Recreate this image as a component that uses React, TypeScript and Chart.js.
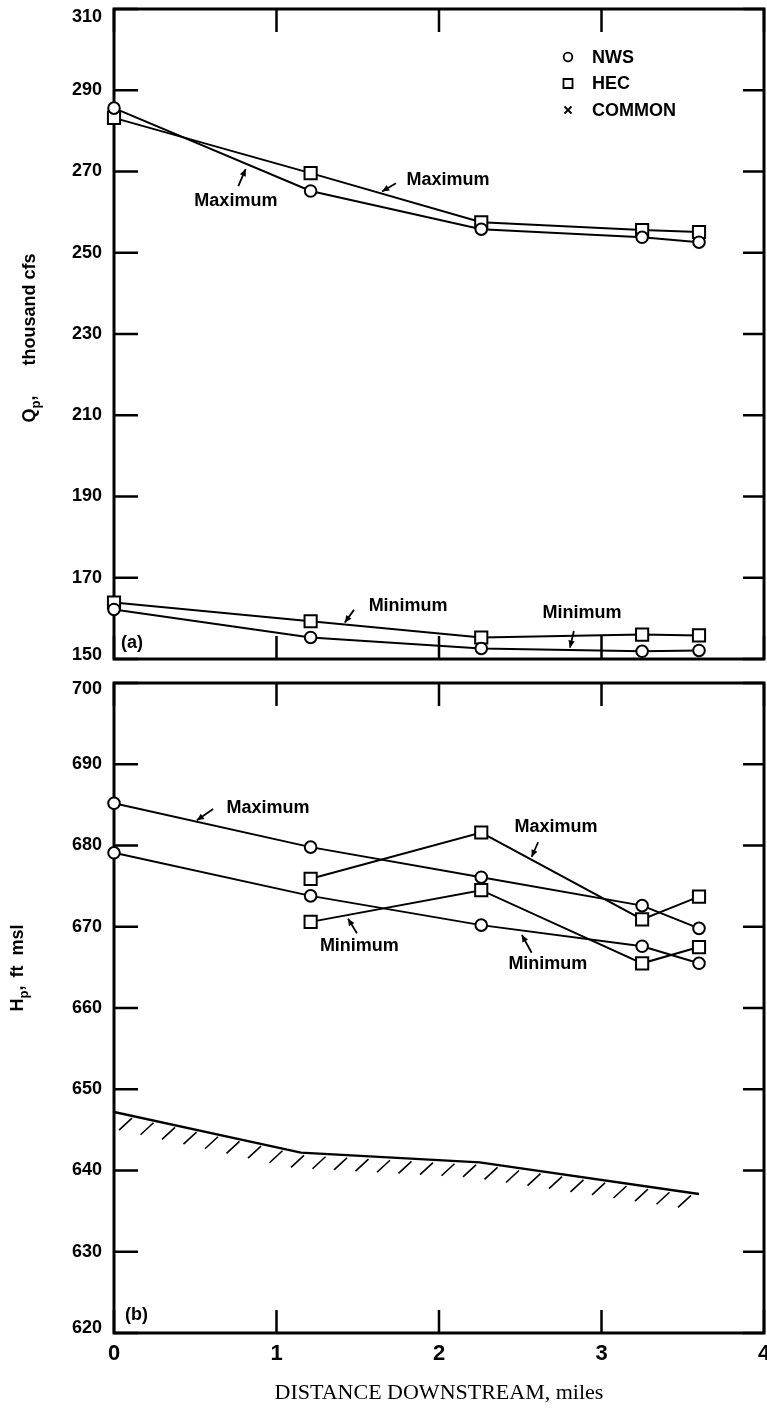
import React, { useEffect, useRef } from "react";
import { Chart, registerables } from "chart.js";

Chart.register(...registerables);

const SANS = "'Liberation Sans', Arial, Helvetica, sans-serif";
const SERIF = "'Liberation Serif', 'Times New Roman', serif";

// Stations along the reach, miles downstream
const stationMiles = [0, 1.21, 2.26, 3.25, 3.6];

// (a) Peak discharge, thousand cfs
const qNwsMax = [285.6, 265.2, 255.8, 253.8, 252.6];
const qHecMax = [283.2, 269.6, 257.5, 255.6, 255.1];
const qNwsMin = [162.2, 155.3, 152.6, 151.9, 152.1];
const qHecMin = [163.9, 159.3, 155.3, 156.0, 155.8];

// (b) Peak stage, ft msl (HEC starts at the first downstream station)
const hNwsMax = [685.2, 679.8, 676.1, 672.6, 669.8];
const hNwsMin = [679.1, 673.8, 670.2, 667.6, 665.5];
const hHecMax = [null, 675.9, 681.6, 670.9, 673.7];
const hHecMin = [null, 670.6, 674.5, 665.5, 667.5];

// Channel bed profile
const bedMiles = [0, 1.15, 2.25, 3.6];
const bedElev = [647.2, 642.2, 641.0, 637.1];

// Axis ticks
const xTickValues = [0, 1, 2, 3, 4];
const qTickValues = [150, 170, 190, 210, 230, 250, 270, 290, 310];
const hTickValues = [620, 630, 640, 650, 660, 670, 680, 690, 700];

// Legend
const legendLabels = ["NWS", "HEC", "COMMON"];
const legendMarkers = ["circle", "square", "cross"];

// Callout labels with leader arrows, in data units [miles, value]
type Note = { text: string; at: number[]; tail: number[]; head: number[] };
const qNotes: Note[] = [
  { text: "Maximum", at: [0.75, 262.7], tail: [0.765, 266.4], head: [0.81, 270.6] },
  { text: "Maximum", at: [2.055, 267.8], tail: [1.735, 267.1], head: [1.65, 265.1] },
  { text: "Minimum", at: [1.81, 163.1], tail: [1.477, 162.1], head: [1.42, 159.0] },
  { text: "Minimum", at: [2.88, 161.3], tail: [2.83, 156.9], head: [2.806, 152.8] },
];
const hNotes: Note[] = [
  { text: "Maximum", at: [0.948, 684.6], tail: [0.61, 684.5], head: [0.51, 683.1] },
  { text: "Maximum", at: [2.72, 682.3], tail: [2.61, 680.4], head: [2.57, 678.6] },
  { text: "Minimum", at: [1.51, 667.6], tail: [1.495, 669.2], head: [1.44, 671.0] },
  { text: "Minimum", at: [2.67, 665.4], tail: [2.57, 666.8], head: [2.51, 669.0] },
];

const toPoints = (xs: number[], ys: (number | null)[]) =>
  xs
    .map((x, i) => ({ x, y: ys[i] }))
    .filter((p) => p.y !== null && p.y !== undefined);

const seriesDataset = (label: string, ys: (number | null)[], marker: string) => ({
  label,
  data: toPoints(stationMiles, ys),
  borderColor: "#000",
  borderWidth: 2,
  backgroundColor: "#fff",
  pointStyle: marker === "circle" ? "circle" : "rect",
  pointRadius: marker === "circle" ? 5.8 : 8.6,
  pointBorderWidth: 2,
  pointBackgroundColor: "#fff",
  pointBorderColor: "#000",
  fill: false,
  tension: 0,
  clip: false,
});

type PanelDecor = {
  yTicks: number[];
  notes: Note[];
  tag: { text: string; at: number[] };
  title: { parts: { text: string; size: number; dy: number; gap: number }[]; dx: number; dy: number };
  legend: boolean;
  bedIndex: number;
};

function drawArrow(ctx: CanvasRenderingContext2D, x1: number, y1: number, x2: number, y2: number) {
  ctx.beginPath();
  ctx.moveTo(x1, y1);
  ctx.lineTo(x2, y2);
  ctx.lineWidth = 1.8;
  ctx.stroke();
  const ang = Math.atan2(y2 - y1, x2 - x1);
  const len = 7;
  const half = 3.2;
  ctx.beginPath();
  ctx.moveTo(x2, y2);
  ctx.lineTo(x2 - len * Math.cos(ang) + half * Math.sin(ang), y2 - len * Math.sin(ang) - half * Math.cos(ang));
  ctx.lineTo(x2 - len * Math.cos(ang) - half * Math.sin(ang), y2 - len * Math.sin(ang) + half * Math.cos(ang));
  ctx.closePath();
  ctx.fill();
}

function makeDecorPlugin(cfg: PanelDecor) {
  return {
    id: "panelDecor",
    beforeDatasetsDraw(chart: any) {
      const { ctx, chartArea } = chart;
      const { left, right, top, bottom } = chartArea;
      const xs = chart.scales.x;
      const ys = chart.scales.y;
      ctx.save();
      ctx.strokeStyle = "#000";
      ctx.fillStyle = "#000";
      ctx.lineCap = "butt";

      // frame
      ctx.lineWidth = 3;
      ctx.strokeRect(left, top, right - left, bottom - top);

      // inward tick marks
      ctx.lineWidth = 2.5;
      ctx.beginPath();
      cfg.yTicks.forEach((v) => {
        const py = ys.getPixelForValue(v);
        ctx.moveTo(left, py);
        ctx.lineTo(left + 24, py);
        ctx.moveTo(right, py);
        ctx.lineTo(right - 21, py);
      });
      xTickValues.forEach((v) => {
        const px = xs.getPixelForValue(v);
        ctx.moveTo(px, top);
        ctx.lineTo(px, top + 23);
        ctx.moveTo(px, bottom);
        ctx.lineTo(px, bottom - 23);
      });
      ctx.stroke();

      // hatching under the channel bed
      if (cfg.bedIndex >= 0) {
        const pts = chart.getDatasetMeta(cfg.bedIndex).data.map((e: any) => ({ x: e.x, y: e.y }));
        ctx.lineWidth = 1.6;
        ctx.beginPath();
        for (let px = pts[0].x + 14; px <= pts[pts.length - 1].x + 2; px += 21.5) {
          let k = 0;
          while (k < pts.length - 2 && px > pts[k + 1].x) k++;
          const a = pts[k];
          const b = pts[k + 1];
          const t = Math.min(1, Math.max(0, (px - a.x) / (b.x - a.x)));
          const py = a.y + t * (b.y - a.y);
          ctx.moveTo(px + 4, py + 3);
          ctx.lineTo(px - 9, py + 15);
        }
        ctx.stroke();
      }
      ctx.restore();
    },
    afterDatasetsDraw(chart: any) {
      const { ctx, chartArea } = chart;
      const { left, right, top, bottom } = chartArea;
      const xs = chart.scales.x;
      const ys = chart.scales.y;
      const X = (v: number) => xs.getPixelForValue(v);
      const Y = (v: number) => ys.getPixelForValue(v);
      ctx.save();
      ctx.fillStyle = "#000";
      ctx.strokeStyle = "#000";

      // callouts
      ctx.font = `bold 18px ${SANS}`;
      ctx.textAlign = "center";
      ctx.textBaseline = "middle";
      cfg.notes.forEach((n) => {
        ctx.fillText(n.text, X(n.at[0]), Y(n.at[1]));
        drawArrow(ctx, X(n.tail[0]), Y(n.tail[1]), X(n.head[0]), Y(n.head[1]));
      });

      // panel tag
      ctx.textAlign = "left";
      ctx.fillText(cfg.tag.text, X(cfg.tag.at[0]), Y(cfg.tag.at[1]));

      // legend
      if (cfg.legend) {
        const mx = right - 196;
        const tx = right - 172;
        legendLabels.forEach((lab, i) => {
          const my = top + 48 + i * 26.5;
          ctx.lineWidth = 1.8;
          ctx.beginPath();
          if (legendMarkers[i] === "circle") {
            ctx.arc(mx, my, 4.3, 0, Math.PI * 2);
          } else if (legendMarkers[i] === "square") {
            ctx.rect(mx - 4.5, my - 4.5, 9, 9);
          } else {
            ctx.moveTo(mx - 3.5, my - 3.5);
            ctx.lineTo(mx + 3.5, my + 3.5);
            ctx.moveTo(mx + 3.5, my - 3.5);
            ctx.lineTo(mx - 3.5, my + 3.5);
          }
          ctx.stroke();
          ctx.font = `bold 18px ${SANS}`;
          ctx.textAlign = "left";
          ctx.textBaseline = "middle";
          ctx.fillText(lab, tx, my + 1);
        });
      }

      // rotated axis title with subscript
      const parts = cfg.title.parts;
      let total = 0;
      parts.forEach((p) => {
        ctx.font = `bold ${p.size}px ${SANS}`;
        total += ctx.measureText(p.text).width + p.gap;
      });
      ctx.translate(left + cfg.title.dx, (top + bottom) / 2 + cfg.title.dy);
      ctx.rotate(-Math.PI / 2);
      ctx.textAlign = "left";
      ctx.textBaseline = "alphabetic";
      let cursor = -total / 2;
      parts.forEach((p) => {
        ctx.font = `bold ${p.size}px ${SANS}`;
        ctx.fillText(p.text, cursor, p.dy);
        cursor += ctx.measureText(p.text).width + p.gap;
      });
      ctx.restore();
    },
  };
}

function yScale(min: number, max: number, tickValues: number[], nudgeTop: number, nudgeBottom: number) {
  return {
    type: "linear",
    min,
    max,
    afterBuildTicks: (s: any) => {
      s.ticks = tickValues.map((v) => ({ value: v }));
    },
    afterFit: (s: any) => {
      s.width = 114;
      s.paddingTop = 0;
      s.paddingBottom = 0;
    },
    grid: { display: false, drawTicks: false },
    border: { display: false },
    ticks: {
      color: "#000",
      padding: 12,
      callback: (v: number) => (v === max ? ["", String(v)] : v === min ? [String(v), ""] : String(v)),
      font: (c: any) => {
        const v = c.tick ? c.tick.value : null;
        const lh = v === max ? `${2 * nudgeTop}px` : v === min ? `${2 * nudgeBottom}px` : 1.2;
        return { family: SANS, size: 18, weight: "bold", lineHeight: lh };
      },
    },
  };
}

function xScale(show: boolean) {
  return {
    type: "linear",
    min: 0,
    max: 4,
    display: show,
    afterBuildTicks: (s: any) => {
      s.ticks = xTickValues.map((v) => ({ value: v }));
    },
    afterFit: (s: any) => {
      s.height = show ? 76 : 0;
      s.paddingLeft = 0;
      s.paddingRight = 0;
    },
    grid: { display: false, drawTicks: false },
    border: { display: false },
    ticks: {
      color: "#000",
      padding: 8,
      maxRotation: 0,
      font: { family: SANS, size: 22, weight: "bold" },
    },
    title: {
      display: show,
      text: "DISTANCE DOWNSTREAM, miles",
      color: "#000",
      font: { family: SERIF, size: 22, weight: "normal" },
      padding: { top: 0, bottom: 3 },
    },
  };
}

function buildDischargeChart(): any {
  const decor = makeDecorPlugin({
    yTicks: qTickValues,
    notes: qNotes,
    tag: { text: "(a)", at: [0.043, 154] },
    title: {
      parts: [
        { text: "Q", size: 18, dy: 0, gap: 0 },
        { text: "p", size: 13, dy: 5, gap: 0 },
        { text: ",", size: 18, dy: 0, gap: 30 },
        { text: "thousand cfs", size: 18, dy: 0, gap: 0 },
      ],
      dx: -79,
      dy: 4,
    },
    legend: true,
    bedIndex: -1,
  });
  return {
    type: "line",
    data: {
      datasets: [
        seriesDataset("NWS maximum", qNwsMax, "circle"),
        seriesDataset("HEC maximum", qHecMax, "square"),
        seriesDataset("NWS minimum", qNwsMin, "circle"),
        seriesDataset("HEC minimum", qHecMin, "square"),
      ],
    },
    options: {
      responsive: false,
      animation: false,
      events: [],
      layout: { autoPadding: false, padding: { left: 0, right: 3, top: 9, bottom: 11 } },
      plugins: { legend: { display: false }, tooltip: { enabled: false } },
      scales: {
        x: xScale(false),
        y: yScale(150, 310, qTickValues, 8, 4),
      },
    },
    plugins: [decor],
  };
}

function buildStageChart(): any {
  const decor = makeDecorPlugin({
    yTicks: hTickValues,
    notes: hNotes,
    tag: { text: "(b)", at: [0.068, 622.2] },
    title: {
      parts: [
        { text: "H", size: 18, dy: 0, gap: 0 },
        { text: "p", size: 13, dy: 5, gap: 0 },
        { text: ",", size: 18, dy: 0, gap: 8 },
        { text: "ft", size: 18, dy: 0, gap: 10 },
        { text: "msl", size: 18, dy: 0, gap: 0 },
      ],
      dx: -91,
      dy: -40,
    },
    legend: false,
    bedIndex: 4,
  });
  return {
    type: "line",
    data: {
      datasets: [
        seriesDataset("NWS maximum", hNwsMax, "circle"),
        seriesDataset("NWS minimum", hNwsMin, "circle"),
        seriesDataset("HEC maximum", hHecMax, "square"),
        seriesDataset("HEC minimum", hHecMin, "square"),
        {
          label: "Channel bed",
          data: toPoints(bedMiles, bedElev),
          borderColor: "#000",
          borderWidth: 2.5,
          pointRadius: 0,
          fill: false,
          tension: 0,
        },
      ],
    },
    options: {
      responsive: false,
      animation: false,
      events: [],
      layout: { autoPadding: false, padding: { left: 0, right: 3, top: 13, bottom: 0 } },
      plugins: { legend: { display: false }, tooltip: { enabled: false } },
      scales: {
        x: xScale(true),
        y: yScale(620, 700, hTickValues, 6, 5),
      },
    },
    plugins: [decor],
  };
}

function PanelChart({ top, height, build }: { top: number; height: number; build: () => any }) {
  const ref = useRef<HTMLCanvasElement | null>(null);
  useEffect(() => {
    if (!ref.current) return;
    const chart = new Chart(ref.current, build());
    return () => chart.destroy();
  }, [build]);
  return (
    <canvas
      ref={ref}
      width={767}
      height={height}
      style={{ position: "absolute", left: 0, top, width: 767, height, display: "block" }}
    />
  );
}

export default function App() {
  return (
    <div style={{ position: "absolute", left: 0, top: 0, width: 767, height: 1409, background: "#fff" }}>
      <PanelChart top={0} height={670} build={buildDischargeChart} />
      <PanelChart top={670} height={739} build={buildStageChart} />
    </div>
  );
}
